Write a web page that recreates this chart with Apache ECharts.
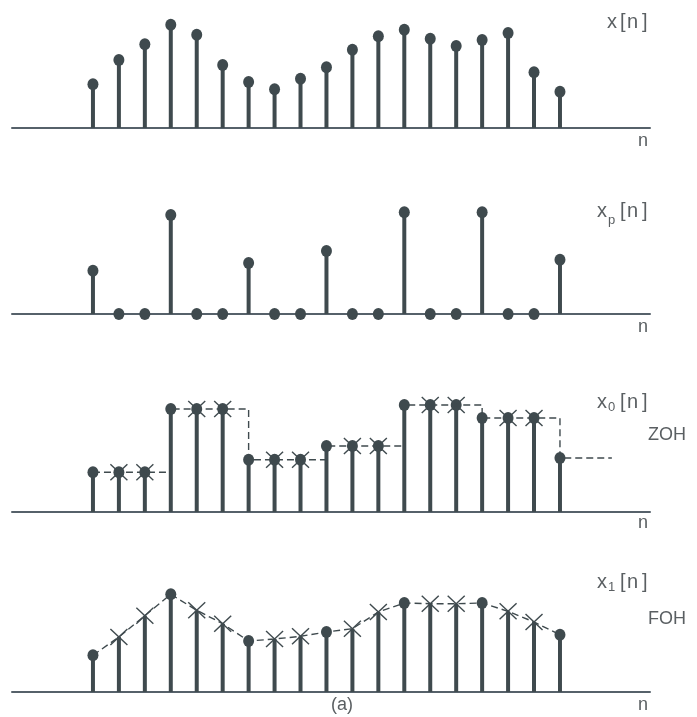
<!DOCTYPE html>
<html>
<head>
<meta charset="utf-8">
<script src="https://cdn.jsdelivr.net/npm/echarts@6/dist/echarts.min.js"></script>
<style>
  html, body { margin: 0; padding: 0; background: #ffffff; }
  #chart { width: 697px; height: 717px; }
</style>
</head>
<body>
<div id="chart"></div>
<script>
  // sample index n = 0..18
  const nIdx = [0, 1, 2, 3, 4, 5, 6, 7, 8, 9, 10, 11, 12, 13, 14, 15, 16, 17, 18];
  // kept samples (every 3rd)
  const sampleIdx = [0, 3, 6, 9, 12, 15, 18];

  // values (pixel heights above each axis)
  const xVals = [43.7, 68, 83.7, 103.3, 93.3, 63, 46, 38.7, 49.3, 60.7, 78.3, 91.7, 98.3, 89.3, 82, 88, 95, 55.7, 36.3];
  const xpVals = [43.3, 0, 0, 99, 0, 0, 51, 0, 0, 63, 0, 0, 101.7, 0, 0, 101.7, 0, 0, 54.3];
  const x0Vals = [39.7, 39.7, 39.7, 103, 103, 103, 52.3, 52.3, 52.3, 66, 66, 66, 107, 107, 107, 94, 94, 94, 54];
  const x1Vals = [36.7, 55, 76.3, 97.7, 81.7, 68.3, 51, 53, 55.7, 60, 63.3, 80, 89, 88.3, 88.3, 89, 80.7, 70, 57.3];
  // zero-order hold keeps the last value out to here
  const zohTailN = 20;

  const ink = '#3f4a4e';
  const axisInk = '#56616a';
  const textInk = '#5a5f62';
  const font = '"Liberation Sans", "DejaVu Sans", sans-serif';

  // axis y position of each panel (px from top)
  const axisY = [128, 314, 512, 692];
  const gridH = 120;

  const grids = axisY.map((y) => ({ left: 12, right: 47, top: y - gridH, height: gridH }));
  const xAxes = axisY.map((_, i) => ({
    type: 'value',
    gridIndex: i,
    min: -3.12,
    max: 21.47,
    axisLine: { show: true, onZero: false, lineStyle: { color: axisInk, width: 2 } },
    axisTick: { show: false },
    axisLabel: { show: false },
    splitLine: { show: false },
  }));
  const yAxes = axisY.map((_, i) => ({
    type: 'value',
    gridIndex: i,
    min: 0,
    max: gridH,
    show: false,
  }));

  const pairs = (vals) => nIdx.map((n) => [n, vals[n]]);
  const isSample = (n) => sampleIdx.indexOf(n) >= 0;

  function stems(i, vals) {
    return {
      type: 'bar',
      xAxisIndex: i,
      yAxisIndex: i,
      barWidth: 4,
      silent: true,
      itemStyle: { color: ink },
      data: pairs(vals).filter((p) => p[1] > 0),
      z: 2,
    };
  }

  function dots(i, data) {
    return {
      type: 'scatter',
      xAxisIndex: i,
      yAxisIndex: i,
      symbol: 'circle',
      symbolSize: [11, 12],
      itemStyle: { color: ink, opacity: 1 },
      data: data,
      z: 4,
    };
  }

  function crosses(i, data) {
    return {
      type: 'custom',
      xAxisIndex: i,
      yAxisIndex: i,
      data: data,
      z: 5,
      renderItem(params, api) {
        const p = api.coord([api.value(0), api.value(1)]);
        const s = { stroke: ink, lineWidth: 1.4 };
        return {
          type: 'group',
          children: [
            { type: 'line', shape: { x1: p[0] - 8.5, y1: p[1] - 8, x2: p[0] + 8.5, y2: p[1] + 8 }, style: s },
            { type: 'line', shape: { x1: p[0] - 8.5, y1: p[1] + 8, x2: p[0] + 8.5, y2: p[1] - 8 }, style: s },
          ],
        };
      },
    };
  }

  function dashed(i, data, step) {
    return {
      type: 'line',
      xAxisIndex: i,
      yAxisIndex: i,
      step: step || false,
      symbol: 'none',
      silent: true,
      lineStyle: { color: ink, width: 1.4, type: [7, 4] },
      data: data,
      z: 3,
    };
  }

  const series = [
    // x[n]
    stems(0, xVals),
    dots(0, pairs(xVals)),
    // xp[n]
    stems(1, xpVals),
    dots(1, pairs(xpVals)),
    // x0[n] zero-order hold
    dashed(2, pairs(x0Vals).concat([[zohTailN, x0Vals[x0Vals.length - 1]]]), 'end'),
    stems(2, x0Vals),
    dots(2, pairs(x0Vals)),
    crosses(2, pairs(x0Vals).filter((p) => !isSample(p[0]))),
    // x1[n] first-order hold
    dashed(3, pairs(x1Vals)),
    stems(3, x1Vals),
    dots(3, pairs(x1Vals).filter((p) => isSample(p[0]))),
    crosses(3, pairs(x1Vals).filter((p) => !isSample(p[0]))),
  ];

  function txt(x, y, text, size) {
    return {
      type: 'text',
      left: x,
      top: y,
      silent: true,
      style: { text: text, fill: textInk, font: size + 'px ' + font },
    };
  }

  // signal name: x, optional subscript, then [n] at a fixed place
  function name(x, y, sub, subDy) {
    const items = [txt(x, y, 'x', 20)];
    if (sub) items.push(txt(x + 11, y + subDy, sub, 13));
    items.push(txt(620, y, '[', 20));
    items.push(txt(627, y, 'n', 20));
    items.push(txt(642, y, ']', 20));
    return items;
  }

  const labels = [].concat(
    name(607, 12),
    txt(638, 132, 'n', 18),
    name(597, 201, 'p', 13),
    txt(638, 318, 'n', 18),
    name(597, 392, '0', 9),
    txt(648, 426, 'ZOH', 18),
    txt(638, 514, 'n', 18),
    name(597, 572, '1', 9),
    txt(648, 610, 'FOH', 18),
    txt(638, 696, 'n', 18),
    txt(331, 696, '(a)', 18)
  );

  const chart = echarts.init(document.getElementById('chart'), null, { renderer: 'canvas' });
  chart.setOption({
    backgroundColor: '#ffffff',
    animation: false,
    grid: grids,
    xAxis: xAxes,
    yAxis: yAxes,
    series: series,
    graphic: labels,
  });
</script>
</body>
</html>
